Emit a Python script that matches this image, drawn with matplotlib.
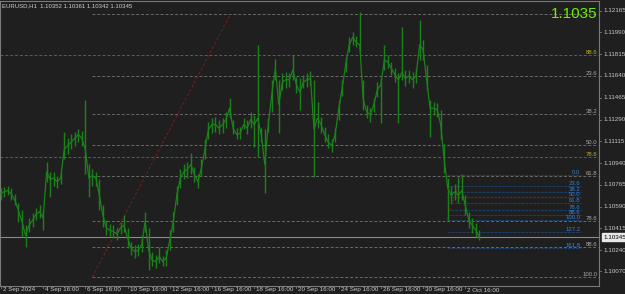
import numpy as np
import matplotlib
matplotlib.use("Agg")
import matplotlib.pyplot as plt
import matplotlib.transforms as mtransforms

plt.rcParams['font.family'] = ['Liberation Sans', 'DejaVu Sans']

# EURUSD H1, one point every 4 trading hours (close / high / low)
close = [1.1070, 1.1071, 1.1072, 1.1069, 1.1064, 1.1056, 1.1047, 1.1036, 1.1044, 1.1048,
         1.1053, 1.1055, 1.1050, 1.1087, 1.1081, 1.1082, 1.1079, 1.1082, 1.1105, 1.1108,
         1.1111, 1.1114, 1.1117, 1.1114, 1.1105, 1.1082, 1.1084, 1.1082, 1.1068, 1.1052,
         1.1042, 1.1040, 1.1039, 1.1037, 1.1042, 1.1044, 1.1034, 1.1026, 1.1023, 1.1024,
         1.1028, 1.1047, 1.1024, 1.1016, 1.1015, 1.1019, 1.1015, 1.1018, 1.1032, 1.1047,
         1.1068, 1.1082, 1.1087, 1.1089, 1.1093, 1.1085, 1.1079, 1.1090, 1.1105, 1.1121,
         1.1125, 1.1125, 1.1122, 1.1125, 1.1129, 1.1138, 1.1122, 1.1117, 1.1118, 1.1125,
         1.1122, 1.1129, 1.1125, 1.1130, 1.1117, 1.1093, 1.1125, 1.1149, 1.1170, 1.1141,
         1.1159, 1.1161, 1.1161, 1.1169, 1.1157, 1.1151, 1.1159, 1.1161, 1.1162, 1.1121,
         1.1130, 1.1125, 1.1117, 1.1111, 1.1108, 1.1117, 1.1137, 1.1154, 1.1173, 1.1189,
         1.1195, 1.1191, 1.1189, 1.1145, 1.1135, 1.1133, 1.1141, 1.1153, 1.1157, 1.1177,
         1.1175, 1.1170, 1.1165, 1.1161, 1.1167, 1.1162, 1.1164, 1.1161, 1.1164, 1.1189,
         1.1185, 1.1161, 1.1138, 1.1138, 1.1137, 1.1125, 1.1097, 1.1074, 1.1068, 1.1071,
         1.1068, 1.1072, 1.1060, 1.1048, 1.1044, 1.1040, 1.10345]
high = [1.1074, 1.1075, 1.1076, 1.1074, 1.1069, 1.1062, 1.1056, 1.1044, 1.1050, 1.1054,
        1.1058, 1.1060, 1.1056, 1.1095, 1.1087, 1.1087, 1.1084, 1.1087, 1.1119, 1.1114,
        1.1117, 1.1119, 1.1121, 1.1120, 1.1145, 1.1093, 1.1089, 1.1087, 1.1081, 1.1060,
        1.1048, 1.1045, 1.1044, 1.1042, 1.1047, 1.1052, 1.1042, 1.1031, 1.1028, 1.1029,
        1.1036, 1.1055, 1.1042, 1.1023, 1.1020, 1.1027, 1.1019, 1.1024, 1.1040, 1.1055,
        1.1076, 1.1089, 1.1093, 1.1095, 1.1102, 1.1091, 1.1085, 1.1097, 1.1113, 1.1127,
        1.1130, 1.1131, 1.1129, 1.1130, 1.1135, 1.1146, 1.1129, 1.1122, 1.1123, 1.1130,
        1.1129, 1.1135, 1.1133, 1.1189, 1.1122, 1.1121, 1.1130, 1.1161, 1.1178, 1.1161,
        1.1166, 1.1167, 1.1166, 1.1181, 1.1163, 1.1162, 1.1165, 1.1166, 1.1168, 1.1161,
        1.1143, 1.1131, 1.1123, 1.1117, 1.1113, 1.1122, 1.1145, 1.1161, 1.1179, 1.1195,
        1.1199, 1.1196, 1.1215, 1.1161, 1.1141, 1.1138, 1.1146, 1.1159, 1.1162, 1.1189,
        1.1181, 1.1175, 1.1170, 1.1166, 1.1203, 1.1169, 1.1169, 1.1167, 1.1170, 1.1209,
        1.1193, 1.1173, 1.1145, 1.1143, 1.1142, 1.1137, 1.1109, 1.1082, 1.1076, 1.1077,
        1.1083, 1.1085, 1.1068, 1.1055, 1.1050, 1.1046, 1.1040]
low = [1.1064, 1.1067, 1.1068, 1.1064, 1.1060, 1.1047, 1.1035, 1.1027, 1.1039, 1.1043,
       1.1048, 1.1050, 1.1040, 1.1079, 1.1067, 1.1076, 1.1074, 1.1077, 1.1097, 1.1101,
       1.1105, 1.1108, 1.1111, 1.1108, 1.1085, 1.1067, 1.1076, 1.1076, 1.1056, 1.1043,
       1.1036, 1.1035, 1.1034, 1.1032, 1.1037, 1.1039, 1.1026, 1.1020, 1.1018, 1.1019,
       1.1023, 1.1039, 1.1008, 1.1011, 1.1010, 1.1014, 1.1011, 1.1011, 1.1024, 1.1039,
       1.1060, 1.1074, 1.1081, 1.1082, 1.1085, 1.1079, 1.1074, 1.1084, 1.1097, 1.1113,
       1.1118, 1.1119, 1.1117, 1.1118, 1.1122, 1.1130, 1.1117, 1.1113, 1.1113, 1.1121,
       1.1117, 1.1122, 1.1107, 1.1099, 1.1111, 1.1070, 1.1119, 1.1135, 1.1161, 1.1118,
       1.1153, 1.1154, 1.1155, 1.1161, 1.1150, 1.1137, 1.1154, 1.1155, 1.1157, 1.1083,
       1.1122, 1.1118, 1.1111, 1.1106, 1.1103, 1.1111, 1.1129, 1.1148, 1.1167, 1.1183,
       1.1189, 1.1187, 1.1183, 1.1137, 1.1130, 1.1127, 1.1135, 1.1147, 1.1126, 1.1169,
       1.1170, 1.1165, 1.1159, 1.1126, 1.1161, 1.1156, 1.1158, 1.1154, 1.1158, 1.1177,
       1.1177, 1.1153, 1.1115, 1.1133, 1.1131, 1.1113, 1.1086, 1.1048, 1.1062, 1.1064,
       1.1062, 1.1064, 1.1052, 1.1042, 1.1038, 1.1035, 1.1032]
step_hours = 4

header_values = [1.10352, 1.10361, 1.10342, 1.10345]
last_price = 1.10345

price_ticks = [1.12165, 1.11990, 1.11815, 1.11640, 1.11465, 1.11290, 1.11115,
               1.10940, 1.10765, 1.10590, 1.10415, 1.10240, 1.10070]
date_labels = ["2 Sep 2024", "4 Sep 16:00", "6 Sep 16:00", "10 Sep 16:00", "12 Sep 16:00",
               "16 Sep 16:00", "18 Sep 16:00", "20 Sep 16:00", "24 Sep 16:00",
               "26 Sep 16:00", "30 Sep 16:00", "2 Oct 16:00"]
date_hours = [0, 48, 96, 144, 192, 240, 288, 336, 384, 432, 480, 528]

# big fibonacci (gray)
fib_levels = [0.0, 23.6, 38.2, 50.0, 61.8, 78.6, 88.6, 100.0]
fib_high, fib_low = 1.12138, 1.10026
fib_start, fib_anchor_end = 104, 261
# second fibonacci (yellow), only two levels on screen
yellow_levels = [88.6, 78.6]
yellow_prices = [1.11805, 1.10987]
# small fibonacci (blue)
blue_levels = [0.0, 23.6, 38.2, 50.0, 61.8, 78.6, 88.6, 100.0, 127.2, 161.8]
blue_high, blue_low = 1.10845, 1.10483
blue_start, blue_end = 507, 659
blue_anchor = [507, 524]

bg = '#1f1f1f'
green = '#1b821b'
fig = plt.figure(figsize=(6.25, 2.94), dpi=100, facecolor=bg)
ax = fig.add_axes([0, 8 / 294, 599 / 625, 285 / 294], facecolor=bg)
ax.set_xlim(-1, 680)
ax.set_ylim(1.09953, 1.12242)

# price bars
t = np.arange(len(close)) * step_hours
ax.vlines(t, low, high, color=green, lw=1.0, zorder=3)
ax.plot(t, close, color=green, lw=0.9, zorder=3)

# big fib
rng = fib_high - fib_low
for lv in fib_levels:
    p = fib_high - lv / 100 * rng
    ax.hlines(p, fib_start, 679, color='#6a6a6a', lw=0.7, ls=(0, (3, 2)), zorder=2)
    if lv > 0:
        ax.text(678, p, f"{lv:.1f}", color='#a8a8a8', fontsize=4.3,
                ha='right', va='bottom', zorder=4)
ax.plot([fib_start, fib_anchor_end], [fib_low, fib_high], color='#7a1e1e', lw=0.7,
        ls=(0, (3, 2)), zorder=2)

# yellow fib levels
for lv, p in zip(yellow_levels, yellow_prices):
    ax.axhline(p, color='#6e5f22', lw=0.7, ls=(0, (3, 2)), zorder=2)
    ax.text(678, p, f"{lv:.1f}", color='#c8aa1e', fontsize=4.3, ha='right', va='bottom', zorder=4)

# blue fib
brng = blue_high - blue_low
for lv in blue_levels:
    p = blue_high - lv / 100 * brng
    ax.hlines(p, blue_start, blue_end, color='#1d3f66', lw=0.7, ls=(0, (3, 1)), zorder=2)
    ax.text(blue_end, p, f"{lv:.1f}", color='#2f7fd8', fontsize=4.3, ha='right', va='bottom', zorder=4)
ax.plot(blue_anchor, [blue_low, blue_high], color='#7a1e1e', lw=0.7, ls=(0, (3, 2)), zorder=2)

# current price line
ax.axhline(last_price, color='#8a8a8a', lw=0.8, zorder=2)

# axes frame
for s in ax.spines.values():
    s.set_color('#7a7a7a')
    s.set_linewidth(0.8)
ax.set_xticks([])
ax.set_yticks([])

# right price scale
off_y = mtransforms.offset_copy(ax.get_yaxis_transform(), fig=fig, x=4, y=0, units='dots')
for p in price_ticks:
    ax.text(1.0, p, f"{p:.5f}", transform=off_y, color='#c8c8c8', fontsize=4.5,
            ha='left', va='center', clip_on=False)
    ax.plot([1.0, 1.004], [p, p], transform=ax.get_yaxis_transform(), color='#7a7a7a',
            lw=0.6, clip_on=False)
ax.text(1.0, last_price, f"{last_price:.5f}", transform=off_y, color='black', fontsize=4.5,
        ha='left', va='center', clip_on=False,
        bbox=dict(boxstyle='square,pad=0.2', fc='#e8e8e8', ec='#e8e8e8'))

# bottom time scale
off_x = mtransforms.offset_copy(ax.get_xaxis_transform(), fig=fig, x=2, y=-4, units='dots')
for h, lab in zip(date_hours, date_labels):
    ax.text(h, 0, lab, transform=off_x, color='#c8c8c8', fontsize=4.5,
            ha='left', va='center', clip_on=False)
    ax.plot([h, h], [0, -0.008], transform=ax.get_xaxis_transform(), color='#7a7a7a',
            lw=0.6, clip_on=False)

# header and big price
hdr = "EURUSD,H1  " + " ".join(f"{v:.5f}" for v in header_values)
ax.text(0.004, 0.982, hdr, transform=ax.transAxes, color='#d0d0d0', fontsize=4.3,
        ha='left', va='center')
ax.text(0.997, 0.955, f"{last_price:.4f}", transform=ax.transAxes, color='#6cf000',
        fontsize=11, family=['Liberation Sans Narrow', 'Liberation Sans', 'DejaVu Sans'],
        ha='right', va='center', zorder=5)

fig.savefig('out.png', dpi=100, facecolor=bg)
